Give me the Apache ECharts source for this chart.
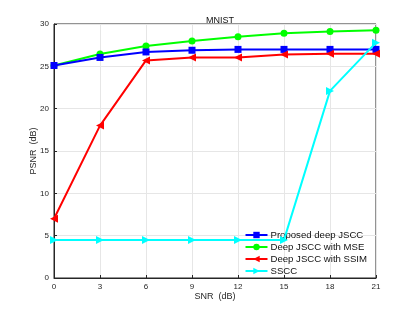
<!DOCTYPE html>
<html><head><meta charset="utf-8">
<script src="https://cdn.jsdelivr.net/npm/echarts@6/dist/echarts.min.js"></script>
<style>html,body{margin:0;padding:0;background:#fff}#c{width:415px;height:312px}</style>
</head><body><div id="c"></div>
<script>
const snr = [0, 3, 6, 9, 12, 15, 18, 21];
const proposed = [25.1, 26.05, 26.7, 26.9, 27.0, 27.0, 27.0, 27.0];
const jsccMSE = [25.1, 26.45, 27.4, 28.0, 28.5, 28.9, 29.1, 29.25];
const jsccSSIM = [7.0, 18.0, 25.7, 26.05, 26.05, 26.4, 26.5, 26.5];
const sscc = [4.5, 4.5, 4.5, 4.5, 4.5, 4.5, 22.1, 27.8];
const names = ['Proposed deep JSCC', 'Deep JSCC with MSE', 'Deep JSCC with SSIM', 'SSCC'];

const chart = echarts.init(document.getElementById('c'), null, {renderer: 'canvas'});
const font = 'Liberation Sans, Arial, sans-serif';
function pts(arr){ return arr.map((v,i)=>[snr[i], v]); }
chart.setOption({
  animation: false,
  title: {text: 'MNIST', left: 215, top: 11, textAlign: 'center',
    textStyle: {fontSize: 9, fontWeight: 'normal', color: '#111', fontFamily: font}},
  grid: {left: 54, right: 39, top: 24, bottom: 34, show: true, borderColor: '#262626', borderWidth: 1},
  xAxis: {type: 'value', min: 0, max: 21, interval: 3,
    name: 'SNR  (dB)', nameLocation: 'middle', nameGap: 14, nameMoveOverlap: false,
    nameTextStyle: {fontSize: 9, color: '#262626', fontFamily: font},
    axisLine: {show: true, lineStyle: {color: '#262626'}},
    axisTick: {show: true, inside: true, length: 3, lineStyle: {color: '#262626'}},
    axisLabel: {fontSize: 8, color: '#262626', margin: 5, fontFamily: font},
    splitLine: {show: true, lineStyle: {color: '#e6e6e6', width: 1}}},
  yAxis: {type: 'value', min: 0, max: 30, interval: 5,
    name: 'PSNR  (dB)', nameLocation: 'middle', nameGap: 16, nameMoveOverlap: false,
    nameTextStyle: {fontSize: 9, color: '#262626', fontFamily: font},
    axisLine: {show: true, lineStyle: {color: '#262626'}},
    axisTick: {show: true, inside: true, length: 3, lineStyle: {color: '#262626'}},
    axisLabel: {fontSize: 8, color: '#262626', margin: 5, fontFamily: font},
    splitLine: {show: true, lineStyle: {color: '#e6e6e6', width: 1}}},
  legend: {
    data: names, orient: 'vertical', right: 48, bottom: 36, padding: 0,
    itemWidth: 22, itemHeight: 8, itemGap: 2,
    textStyle: {fontSize: 9.6, color: '#111', fontFamily: font, padding: [0,0,0,-2]},
    backgroundColor: 'rgba(255,255,255,0)'
  },
  series: [
    {name: names[0], type: 'line', data: pts(proposed), symbol: 'rect', symbolSize: 7,
      lineStyle: {color: '#0000ff', width: 2}, itemStyle: {color: '#0000ff'}, z: 3},
    {name: names[1], type: 'line', data: pts(jsccMSE), symbol: 'circle', symbolSize: 7,
      lineStyle: {color: '#00ff00', width: 2}, itemStyle: {color: '#00ff00'}, z: 2},
    {name: names[2], type: 'line', data: pts(jsccSSIM), symbol: 'triangle', symbolRotate: 90, symbolSize: 8,
      lineStyle: {color: '#ff0000', width: 2}, itemStyle: {color: '#ff0000'}, z: 4},
    {name: names[3], type: 'line', data: pts(sscc), symbol: 'triangle', symbolRotate: -90, symbolSize: 8,
      lineStyle: {color: '#00ffff', width: 2}, itemStyle: {color: '#00ffff'}, z: 5}
  ]
});
</script></body></html>
